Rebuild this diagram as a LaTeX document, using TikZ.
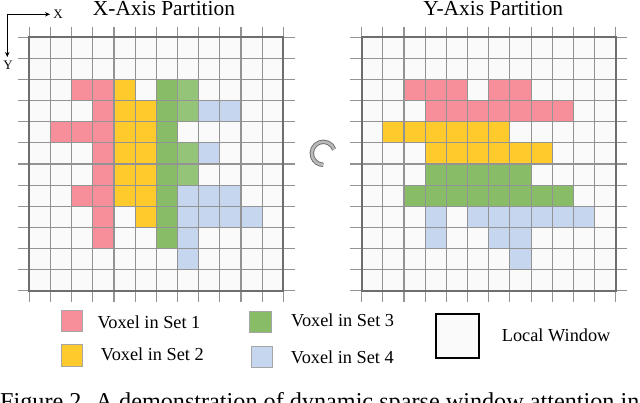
\documentclass[tikz,border=0pt]{standalone}
\usepackage{fontspec}
\setmainfont{Liberation Serif}
\usetikzlibrary{arrows.meta}
\definecolor{pk}{HTML}{F78F9B}
\definecolor{yl}{HTML}{FFCA2C}
\definecolor{gn}{HTML}{88BC66}
\definecolor{gl}{HTML}{94C478}
\definecolor{bl}{HTML}{C6D6EE}
\definecolor{cellbg}{HTML}{FAFAFA}
\definecolor{gridc}{HTML}{939393}
\definecolor{bordc}{HTML}{6E6E6E}
\tikzset{
 lbl/.style={anchor=base west, inner sep=0pt, font=\fontsize{18.3}{22}\selectfont},
 ttl/.style={anchor=base, inner sep=0pt, font=\fontsize{21.4}{25}\selectfont},
 axl/.style={inner sep=0pt, font=\fontsize{13}{15}\selectfont},
 gridline/.style={draw=gridc, line width=1.1pt},
 border/.style={draw=bordc, line width=2pt},
 legbox/.style={draw=gray!70, line width=0.9pt, inner sep=0pt, anchor=north west},
 axarrow/.style={-{Stealth[length=5pt,width=4.5pt]}, line width=1pt, black},
}
\newcommand\voxgrid[2]{%
 \begin{scope}[shift={(#1,37.3)}]
 \fill[cellbg] (0,0) rectangle (254,253.4);
 \foreach \rw/\cl/\kk in {#2} { \fill[\kk] (\cl*21.17, \rw*21.12) rectangle ++(21.17,21.12); }
 \foreach \i in {0,...,12} {
   \draw[gridline] (\i*21.17,-10.5) -- (\i*21.17, 264.5);
   \draw[gridline] (-11.3, \i*21.12) -- (265.3, \i*21.12);
 }
 \draw[border] (0,0) rectangle (254,253.4);
 \end{scope}}
\begin{document}
\begin{tikzpicture}[x=1pt,y=-1pt]
\useasboundingbox (0,0) rectangle (640,402);
\clip (0,0) rectangle (640,402);
\fill[white] (0,0) rectangle (640,402);
% grids
\voxgrid{29.3}{2/2/pk,2/3/pk,2/4/yl,2/6/gn,2/7/gl,
3/3/pk,3/4/yl,3/5/yl,3/6/gn,3/7/gl,3/8/bl,3/9/bl,
4/1/pk,4/2/pk,4/3/pk,4/4/yl,4/5/yl,4/6/gn,
5/3/pk,5/4/yl,5/5/yl,5/6/gn,5/7/gl,5/8/bl,
6/3/pk,6/4/yl,6/5/yl,6/6/gn,6/7/gl,
7/2/pk,7/3/pk,7/4/yl,7/5/yl,7/6/gn,7/7/bl,7/8/bl,7/9/bl,
8/3/pk,8/5/yl,8/6/gn,8/7/bl,8/8/bl,8/9/bl,8/10/bl,
9/3/pk,9/6/gn,9/7/bl,
10/7/bl}
\voxgrid{361.7}{2/2/pk,2/3/pk,2/4/pk,2/6/pk,2/7/pk,
3/3/pk,3/4/pk,3/5/pk,3/6/pk,3/7/pk,3/8/pk,3/9/pk,
4/1/yl,4/2/yl,4/3/yl,4/4/yl,4/5/yl,4/6/yl,
5/3/yl,5/4/yl,5/5/yl,5/6/yl,5/7/yl,5/8/yl,
6/3/gn,6/4/gn,6/5/gn,6/6/gn,6/7/gn,
7/2/gn,7/3/gn,7/4/gn,7/5/gn,7/6/gn,7/7/gn,7/8/gn,7/9/gn,
8/3/bl,8/5/bl,8/6/bl,8/7/bl,8/8/bl,8/9/bl,8/10/bl,
9/3/bl,9/6/bl,9/7/bl,
10/7/bl}
% titles
\node[ttl] (tx) at (164,15) {X-Axis Partition};
\node[ttl] (ty) at (493.3,15) {Y-Axis Partition};
% axes
\coordinate (o) at (7.3,14.3);
\coordinate (xe) at (50,14.3);
\coordinate (ye) at (7.3,57);
\draw[axarrow] (o) -- (xe);
\draw[axarrow] (o) -- (ye);
\node[axl] (xl) at (58,14.6) {X};
\node[axl] (ylab) at (8,65.5) {Y};
% rotate icon
\coordinate (rc) at (323.3,153.3);
\draw[draw=gray!85!black, line width=0.9pt, double=gray!55, double distance=2.6pt]
  ([shift={(-20:11.5)}]rc) arc[start angle=-20, end angle=-270, radius=11.5];
% legend
\node[legbox, fill=pk, minimum width=21.6pt, minimum height=21pt] (k1) at (60.7,310) {};
\node[legbox, fill=yl, minimum width=21.6pt, minimum height=21.4pt] (k2) at (60.7,344.3) {};
\node[legbox, fill=gn, minimum width=21.4pt, minimum height=21pt] (k3) at (249.3,310.7) {};
\node[legbox, fill=bl, minimum width=21.6pt, minimum height=21.3pt] (k4) at (250.7,346) {};
\node[draw=black, line width=1.5pt, fill=cellbg, inner sep=0pt, anchor=north west, minimum width=43.3pt, minimum height=44pt] (kw) at (435,313.3) {};
\node[lbl] (t1) at (97.3,328.3) {Voxel in Set 1};
\node[lbl] (t2) at (100.7,360.7) {Voxel in Set 2};
\node[lbl] (t3) at (291,326.7) {Voxel in Set 3};
\node[lbl] (t4) at (290.7,363.3) {Voxel in Set 4};
\node[lbl] (tw) at (501.7,341) {Local Window};
% caption (cut off at the bottom edge)
\node[anchor=base west, inner sep=0pt, font=\fontsize{24.2}{28}\selectfont] (cap) at (0,409.3) {Figure 2. A demonstration of dynamic sparse window attention in};
\end{tikzpicture}
\end{document}
